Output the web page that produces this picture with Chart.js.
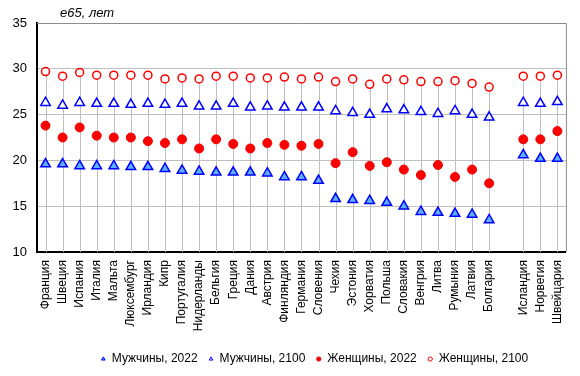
<!DOCTYPE html>
<html><head><meta charset="utf-8">
<script src="https://cdn.jsdelivr.net/npm/chart.js@4.4.0/dist/chart.umd.min.js"></script>
<style>html,body{margin:0;padding:0;background:#fff}#w{width:580px;height:376px}</style>
</head><body><div id="w"><canvas id="c" width="580" height="376"></canvas></div>
<script>
const categories = ['Франция','Швеция','Испания','Италия','Мальта','Люксембург','Ирландия','Кипр','Португалия','Нидерланды','Бельгия','Греция','Дания','Австрия','Финляндия','Германия','Словения','Чехия','Эстония','Хорватия','Польша','Словакия','Венгрия','Литва','Румыния','Латвия','Болгария','','Исландия','Норвегия','Швейцария'];
const men2022 = [19.6,19.6,19.4,19.4,19.4,19.3,19.3,19.1,18.9,18.8,18.7,18.7,18.7,18.6,18.2,18.2,17.8,15.8,15.7,15.6,15.4,15.0,14.4,14.3,14.2,14.1,13.5,null,20.6,20.2,20.2];
const men2100 = [26.3,26.0,26.3,26.2,26.2,26.1,26.2,26.1,26.2,25.9,25.9,26.2,25.8,25.9,25.8,25.8,25.8,25.4,25.2,25.0,25.6,25.5,25.3,25.1,25.4,25.0,24.7,null,26.3,26.2,26.4];
const women2022 = [23.8,22.5,23.6,22.7,22.5,22.5,22.1,21.9,22.3,21.3,22.3,21.8,21.3,21.9,21.7,21.6,21.8,19.7,20.9,19.4,19.8,19.0,18.4,19.5,18.2,19.0,17.5,null,22.3,22.3,23.2];
const women2100 = [29.7,29.2,29.6,29.3,29.3,29.3,29.3,28.9,29.0,28.9,29.2,29.2,29.0,29.0,29.1,28.9,29.1,28.6,28.9,28.3,28.9,28.8,28.6,28.6,28.7,28.4,28.0,null,29.2,29.2,29.3];
const yTicks = [10,15,20,25,30,35];
const seriesNames = ['Мужчины, 2022','Мужчины, 2100','Женщины, 2022','Женщины, 2100'];
const yTitle = 'e65, лет';

const FONT = 'Arial, "Liberation Sans", sans-serif';
Chart.defaults.font.family = FONT;
Chart.defaults.color = '#000';

const dropLines = {
  id: 'dropLines',
  afterLayout(chart) {
    if (chart.legend) { chart.legend.left += 31; chart.legend.right += 31; }
  },
  beforeDatasetsDraw(chart) {
    const {ctx, chartArea, scales} = chart;
    ctx.save();
    ctx.strokeStyle = '#C0C0C0';
    ctx.lineWidth = 1;
    categories.forEach((c, i) => {
      const vals = [men2022[i], men2100[i], women2022[i], women2100[i]].filter(v => v !== null);
      if (!vals.length) return;
      const top = Math.max(...vals);
      const x = Math.round(scales.x.getPixelForValue(i)) + 0.5;
      ctx.beginPath();
      ctx.moveTo(x, scales.y.getPixelForValue(top));
      ctx.lineTo(x, chartArea.bottom);
      ctx.stroke();
    });
    ctx.restore();
  },
  afterDraw(chart) {
    const {ctx, chartArea} = chart;
    ctx.save();
    ctx.strokeStyle = '#8C8C8C';
    ctx.lineWidth = 1;
    ctx.beginPath();
    ctx.moveTo(chartArea.left, chartArea.top + 0.5);
    ctx.lineTo(chartArea.right + 0.5, chartArea.top + 0.5);
    ctx.lineTo(chartArea.right + 0.5, chartArea.bottom);
    ctx.stroke();
    ctx.font = 'italic 13px ' + FONT;
    ctx.fillStyle = '#000';
    ctx.textBaseline = 'middle';
    ctx.textAlign = 'left';
    ctx.fillText(yTitle, 60, 13);
    ctx.restore();
  }
};

new Chart(document.getElementById('c'), {
  type: 'line',
  data: {
    labels: categories,
    datasets: [
      {label: seriesNames[0], data: men2022, showLine: false, pointStyle: 'triangle', pointRadius: 5.5, borderWidth: 1.5, borderColor: '#0000FF', backgroundColor: '#5CB0FF'},
      {label: seriesNames[1], data: men2100, showLine: false, pointStyle: 'triangle', pointRadius: 5.5, borderWidth: 1.5, borderColor: '#0000FF', backgroundColor: '#FFFFFF'},
      {label: seriesNames[2], data: women2022, showLine: false, pointStyle: 'circle', pointRadius: 4.5, borderWidth: 1, borderColor: '#EE0000', backgroundColor: '#FF0000'},
      {label: seriesNames[3], data: women2100, showLine: false, pointStyle: 'circle', pointRadius: 4, borderWidth: 1.5, borderColor: '#FF0000', backgroundColor: '#FFFFFF'}
    ]
  },
  options: {
    responsive: false,
    animation: false,
    events: [],
    layout: {padding: {top: 23, right: 13, bottom: 1, left: 0}},
    plugins: {
      tooltip: {enabled: false},
      legend: {
        position: 'bottom',
        labels: {
          usePointStyle: true, boxWidth: 5, boxHeight: 3, padding: 11, font: {size: 12, family: FONT}, color: '#000',
          generateLabels(chart) {
            return chart.data.datasets.map((ds, i) => ({
              text: ds.label, datasetIndex: i, pointStyle: ds.pointStyle,
              fillStyle: ds.backgroundColor, strokeStyle: ds.borderColor, lineWidth: 1, fontColor: '#000', hidden: false
            }));
          }
        }
      }
    },
    scales: {
      x: {
        offset: true,
        grid: {display: false, drawTicks: false},
        border: {color: '#000', width: 2},
        ticks: {autoSkip: false, maxRotation: 90, minRotation: 90, padding: 8, font: {size: 12, family: FONT}, color: '#000'},
        afterFit(s) { s.height = 90; }
      },
      y: {
        min: 10, max: 35,
        afterBuildTicks(s) { s.ticks = yTicks.map(v => ({value: v})); },
        grid: {drawTicks: false, color: ctx => (ctx.tick && (ctx.tick.value === 35 || ctx.tick.value === 10)) ? 'rgba(0,0,0,0)' : '#C0C0C0'},
        border: {color: '#000', width: 2},
        ticks: {padding: 10, font: {size: 13, family: FONT}, color: '#000'},
        afterFit(s) { s.width = 37; }
      }
    }
  },
  plugins: [dropLines]
});
</script></body></html>
